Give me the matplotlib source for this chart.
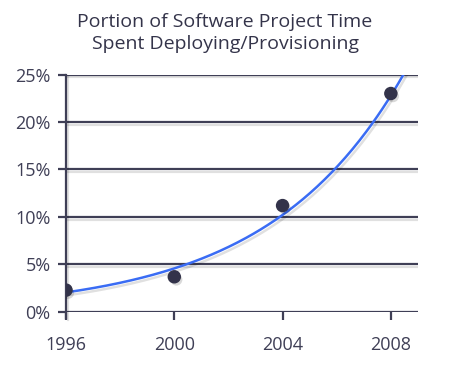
import numpy as np
import matplotlib.pyplot as plt
import matplotlib.patheffects as pe

years = [1996, 2000, 2004, 2008]
share = [2.3, 3.7, 11.2, 23.0]  # percent of project time
y_ticks = [0, 5, 10, 15, 20, 25]

ink = '#3f3f56'
line_shadow = [pe.SimpleLineShadow(offset=(1.5, -2), shadow_color='#000000', alpha=0.12), pe.Normal()]
dot_shadow = [pe.SimplePatchShadow(offset=(1.5, -2), shadow_rgbFace='#000000', alpha=0.15), pe.Normal()]

# exponential trend line fitted to the points
b, a = np.polyfit(np.array(years) - 1996, np.log(share), 1)
xs = np.linspace(1996, 2009, 200)
ys = np.exp(a + b * (xs - 1996))

fig = plt.figure(figsize=(4.5, 3.67), dpi=100)
ax = fig.add_axes([0.1467, 0.150, 0.782, 0.647])

for v in y_ticks:
    ax.axhline(v, color=ink, lw=1.6, zorder=1, path_effects=line_shadow)

ax.plot(xs, ys, color='#3a6cf4', lw=1.8, zorder=3, path_effects=line_shadow)
ax.scatter(years, share, s=75, color='#33334a', zorder=4, path_effects=dot_shadow)

ax.set_xlim(1996, 2009)
ax.set_ylim(0, 25)
ax.set_xticks(years)
ax.set_yticks(y_ticks)
ax.set_yticklabels([f'{v}%' for v in y_ticks])

for s in ['top', 'right', 'bottom']:
    ax.spines[s].set_visible(False)
ax.spines['left'].set_color(ink)
ax.spines['left'].set_linewidth(1.6)
ax.spines['left'].set_bounds(-0.6, 25)
ax.spines['left'].set_path_effects(line_shadow)

ax.tick_params(axis='both', colors=ink, labelsize=13, width=1.6, length=6)
ax.tick_params(axis='x', pad=11)
ax.tick_params(axis='y', pad=5)
for lab in ax.get_xticklabels() + ax.get_yticklabels():
    lab.set_fontfamily('Open Sans')
    lab.set_color(ink)

fig.text(0.5, 0.91, 'Portion of Software Project Time\nSpent Deploying/Provisioning',
         ha='center', va='center', fontsize=14, color='#34344a',
         family='Open Sans', linespacing=1.35)

plt.savefig('out.png', dpi=100)
